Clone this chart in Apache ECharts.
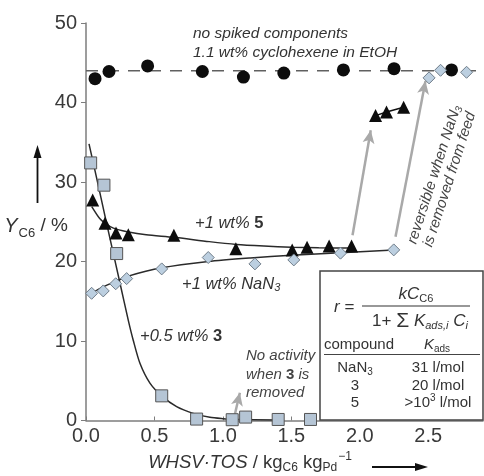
<!DOCTYPE html>
<html><head><meta charset="utf-8">
<script src="https://cdn.jsdelivr.net/npm/echarts@6/dist/echarts.min.js"></script>
<style>html,body{margin:0;padding:0;background:#fff}#c{width:484px;height:476px}</style>
</head><body><div id="c"></div>
<script>
// ---- data ----
const xTicks = [0, 0.5, 1.0, 1.5, 2.0, 2.5];
const yTicks = [0, 10, 20, 30, 40, 50];
const baselineY = 44; // dashed reference level
const circleX = [0.066, 0.168, 0.45, 0.85, 1.15, 1.445, 1.88, 2.25, 2.67];
const circleY = [43.0, 43.9, 44.6, 43.9, 43.2, 43.7, 44.1, 44.25, 44.1];
const triLowX = [0.049, 0.139, 0.219, 0.309, 0.642, 1.095, 1.506, 1.615, 1.776, 1.94];
const triLowY = [27.75, 24.8, 23.6, 23.35, 23.3, 21.6, 21.46, 21.8, 21.96, 21.96];
const triHighX = [2.115, 2.195, 2.32];
const triHighY = [38.35, 38.8, 39.4];
const diaLowX = [0.041, 0.126, 0.217, 0.297, 0.553, 0.893, 1.234, 1.518, 1.859, 2.248];
const diaLowY = [16.0, 16.3, 17.2, 17.85, 19.07, 20.5, 19.7, 20.2, 21.05, 21.46];
const diaHighX = [2.506, 2.59, 2.78];
const diaHighY = [43.1, 44.05, 43.8];
const sqX = [0.034, 0.131, 0.224, 0.553, 0.808, 1.068, 1.166, 1.404, 1.64];
const sqY = [32.4, 29.6, 21.0, 3.1, 0.18, 0.1, 0.43, 0.13, 0.13];
// fitted curves
const fit5X = [0.042, 0.10, 0.14, 0.20, 0.30, 0.44, 0.64, 0.90, 1.10, 1.30, 1.50, 1.70, 1.94];
const fit5Y = [26.9, 25.4, 24.8, 24.2, 23.75, 23.35, 23.05, 22.5, 22.15, 21.95, 21.8, 21.72, 21.7];
const fitNX = [0.048, 0.126, 0.217, 0.297, 0.553, 0.893, 1.2, 1.5, 1.859, 2.248];
const fitNY = [16.1, 16.8, 17.5, 18.1, 19.2, 20.0, 20.45, 20.8, 21.1, 21.46];
const fit3X = [0.022, 0.102, 0.175, 0.248, 0.309, 0.345, 0.394, 0.467, 0.553, 0.662, 0.783, 0.905, 1.0, 1.075, 1.40];
const fit3Y = [34.8, 28.6, 22.9, 17.3, 12.6, 10.1, 7.2, 4.7, 3.1, 1.74, 0.9, 0.4, 0.23, 0.15, 0.06];
// annotation arrows [x1,y1,x2,y2] in data units
const arrows = [[1.088, 0.82, 1.124, 3.5], [1.947, 23.3, 2.08, 36.5], [2.261, 23.1, 2.48, 42.7]];

const zip = (a, b) => a.map((v, i) => [v, b[i]]);
const F = "'Liberation Sans', Arial, Helvetica, sans-serif";
const INK = '#333';

function T(x, y, text, o) {
  o = o || {};
  return {
    type: 'text', x: x, y: y, rotation: o.rot || 0, z: 100, silent: true,
    style: {
      text: text, fontFamily: F, fontSize: o.size || 15, fontStyle: o.style || 'normal',
      fontWeight: o.weight || 'normal', fill: o.color || INK,
      align: o.align || 'left', verticalAlign: 'middle',
      textAlign: o.align || 'left', textVerticalAlign: 'middle',
      lineHeight: o.lh, rich: o.rich || {}
    }
  };
}

const chart = echarts.init(document.getElementById('c'), null, {renderer: 'canvas'});
const axisCol = '#7d7d7d';
const labelStyle = {fontFamily: F, fontSize: 20, color: '#3a3a3a'};
const fitLine = {color: '#2a2a2a', width: 1.5};

const option = {
  animation: false,
  grid: {left: 86, right: 1, top: 23, bottom: 55.5, containLabel: false},
  xAxis: {
    type: 'value', min: 0, max: 2.9, interval: 0.5,
    axisLine: {show: true, lineStyle: {color: axisCol, width: 1.5}},
    axisTick: {show: true, inside: true, length: 4, lineStyle: {color: axisCol}},
    axisLabel: Object.assign({margin: 6, showMaxLabel: false,
      formatter: v => xTicks.indexOf(v) >= 0 ? v.toFixed(1) : ''}, labelStyle),
    splitLine: {show: false}
  },
  yAxis: {
    type: 'value', min: 0, max: 50, interval: 10,
    axisLine: {show: true, lineStyle: {color: axisCol, width: 1.5}},
    axisTick: {show: true, inside: false, length: 5, lineStyle: {color: axisCol}},
    axisLabel: Object.assign({margin: 9, formatter: v => yTicks.indexOf(v) >= 0 ? String(v) : ''}, labelStyle),
    splitLine: {show: false}
  },
  series: [
    {type: 'line', data: [[0, baselineY], [2.9, baselineY]], symbol: 'none', silent: true,
     lineStyle: {color: '#606060', width: 1.6, type: [12, 9]}, z: 1},
    {type: 'line', data: zip(fit5X, fit5Y), smooth: 0.25, symbol: 'none', silent: true, lineStyle: fitLine, z: 2},
    {type: 'line', data: zip(fitNX, fitNY), smooth: 0.25, symbol: 'none', silent: true, lineStyle: fitLine, z: 2},
    {type: 'line', data: zip(fit3X, fit3Y), smooth: 0.25, symbol: 'none', silent: true, lineStyle: fitLine, z: 2},
    {type: 'line', data: [], symbol: 'none', z: 3,
     markLine: {silent: true, animation: false, symbol: ['none', 'arrow'], symbolSize: [9, 13],
       label: {show: false}, lineStyle: {color: '#a9a9a9', width: 2.5, type: 'solid'},
       emphasis: {disabled: true},
       data: arrows.map(a => [{coord: [a[0], a[1]]}, {coord: [a[2], a[3]]}])}},
    {type: 'scatter', data: zip(circleX, circleY), symbol: 'circle', symbolSize: 13,
     itemStyle: {color: '#0d0d0d', opacity: 1}, z: 5},
    {type: 'scatter', data: zip(triLowX, triLowY), symbol: 'triangle', symbolSize: 13,
     itemStyle: {color: '#0d0d0d', opacity: 1}, z: 5},
    {type: 'line', data: zip(triHighX, triHighY), symbol: 'triangle', symbolSize: 13,
     lineStyle: {color: '#111', width: 1.5}, itemStyle: {color: '#0d0d0d', opacity: 1}, z: 5},
    {type: 'scatter', data: zip(diaLowX, diaLowY), symbol: 'diamond', symbolSize: 12,
     itemStyle: {color: '#bccfe0', borderColor: '#6f7c88', borderWidth: 1, opacity: 1}, z: 5},
    {type: 'scatter', data: zip(diaHighX, diaHighY), symbol: 'diamond', symbolSize: 12,
     itemStyle: {color: '#bccfe0', borderColor: '#6f7c88', borderWidth: 1, opacity: 1}, z: 5},
    {type: 'scatter', data: zip(sqX, sqY), symbol: 'rect', symbolSize: 12,
     itemStyle: {color: '#b5c5d5', borderColor: '#555', borderWidth: 1, opacity: 1}, z: 5}
  ],
  graphic: [
    // Y axis label and arrow
    T(36, 226, '{i|Y}{s|C6}{n| / %}', {size: 20, align: 'center',
      rich: {i: {fontStyle: 'italic', fontSize: 20}, s: {fontSize: 13, padding: [14, 0, 0, 1]}, n: {fontSize: 19}}}),
    {type: 'line', z: 100, silent: true, shape: {x1: 37.5, y1: 203, x2: 37.5, y2: 156}, style: {stroke: '#111', lineWidth: 1.8}},
    {type: 'polygon', z: 100, silent: true, shape: {points: [[37.5, 145], [33.5, 158], [41.5, 158]]}, style: {fill: '#111'}},
    // X axis label and arrow
    T(250, 463, '{i|WHSV·TOS}{n| / kg}{s|C6}{n| kg}{s|Pd}{p|−1}', {size: 19, align: 'center',
      rich: {i: {fontStyle: 'italic', fontSize: 18.5}, n: {fontSize: 18.5}, s: {fontSize: 12, padding: [10, 0, 0, 0]},
             p: {fontSize: 12, padding: [0, 0, 12, 1]}}}),
    {type: 'line', z: 100, silent: true, shape: {x1: 372, y1: 467, x2: 418, y2: 467}, style: {stroke: '#111', lineWidth: 1.8}},
    {type: 'polygon', z: 100, silent: true, shape: {points: [[428, 467], [415, 463], [415, 471]]}, style: {fill: '#111'}},
    // annotations
    T(193, 34, 'no spiked components', {size: 15.5, style: 'italic'}),
    T(193, 53, '1.1 wt% cyclohexene in EtOH', {size: 15.5, style: 'italic'}),
    T(195, 223, '{i|+1 wt% }{b|5}', {size: 16.5, rich: {i: {fontStyle: 'italic', fontSize: 16.5}, b: {fontWeight: 'bold', fontSize: 16.5}}}),
    T(182, 284, '{i|+1 wt% NaN}{s|3}', {size: 16.5, rich: {i: {fontStyle: 'italic', fontSize: 16.5}, s: {fontStyle: 'italic', fontSize: 11, padding: [8, 0, 0, 0]}}}),
    T(140, 336, '{i|+0.5 wt% }{b|3}', {size: 16.5, rich: {i: {fontStyle: 'italic', fontSize: 16.5}, b: {fontWeight: 'bold', fontSize: 16.5}}}),
    T(246, 356, 'No activity', {size: 15, style: 'italic', color: '#444'}),
    T(246, 375, '{i|when }{b|3}{i| is}', {size: 15, color: '#444', rich: {i: {fontStyle: 'italic', fontSize: 15}, b: {fontWeight: 'bold', fontSize: 15}}}),
    T(246, 393, 'removed', {size: 15, style: 'italic', color: '#444'}),
    T(442, 177, '{i|reversible when NaN}{s|3}\n{i|is removed from feed}', {size: 15, align: 'center', color: '#444', rot: 72 * Math.PI / 180,
      rich: {i: {fontStyle: 'italic', fontSize: 15, lineHeight: 16}, s: {fontStyle: 'italic', fontSize: 10, padding: [7, 0, 0, 0], lineHeight: 16}}}),
    // equation / table box
    {type: 'rect', z: 90, silent: true, shape: {x: 320, y: 271, width: 163, height: 149}, style: {fill: '#fff', stroke: '#444', lineWidth: 1.5}},
    T(334, 307, '{i|r}{n| =}', {size: 17, rich: {i: {fontStyle: 'italic', fontSize: 17}, n: {fontSize: 17}}}),
    T(416, 294, '{i|kC}{s|C6}', {size: 17, align: 'center', rich: {i: {fontStyle: 'italic', fontSize: 17}, s: {fontSize: 11, padding: [9, 0, 0, 0]}}}),
    {type: 'line', z: 100, silent: true, shape: {x1: 362, y1: 306, x2: 470, y2: 306}, style: {stroke: '#333', lineWidth: 1.2}},
    T(420, 321, '{n|1+ }{S|Σ}{i| K}{s|ads,i}{i| C}{s|i}', {size: 17, align: 'center',
      rich: {n: {fontSize: 17}, S: {fontSize: 21}, i: {fontStyle: 'italic', fontSize: 17}, s: {fontStyle: 'italic', fontSize: 11, padding: [9, 0, 0, 0]}}}),
    T(359, 345, 'compound', {size: 15, align: 'center'}),
    T(437, 345, '{i|K}{s|ads}', {size: 15, align: 'center', rich: {i: {fontStyle: 'italic', fontSize: 15}, s: {fontSize: 10, padding: [8, 0, 0, 0]}}}),
    {type: 'line', z: 100, silent: true, shape: {x1: 324, y1: 354.5, x2: 480, y2: 354.5}, style: {stroke: '#444', lineWidth: 1}},
    T(355, 368, '{n|NaN}{s|3}', {size: 15, align: 'center', rich: {n: {fontSize: 15}, s: {fontSize: 10, padding: [8, 0, 0, 0]}}}),
    T(438, 368, '31 l/mol', {size: 15, align: 'center'}),
    T(355, 386, '3', {size: 15, align: 'center'}),
    T(438, 386, '20 l/mol', {size: 15, align: 'center'}),
    T(355, 403, '5', {size: 15, align: 'center'}),
    T(438, 403, '{n|>10}{p|3}{n| l/mol}', {size: 15, align: 'center', rich: {n: {fontSize: 15}, p: {fontSize: 10, padding: [0, 0, 9, 0]}}})
  ]
};
chart.setOption(option);
</script></body></html>
